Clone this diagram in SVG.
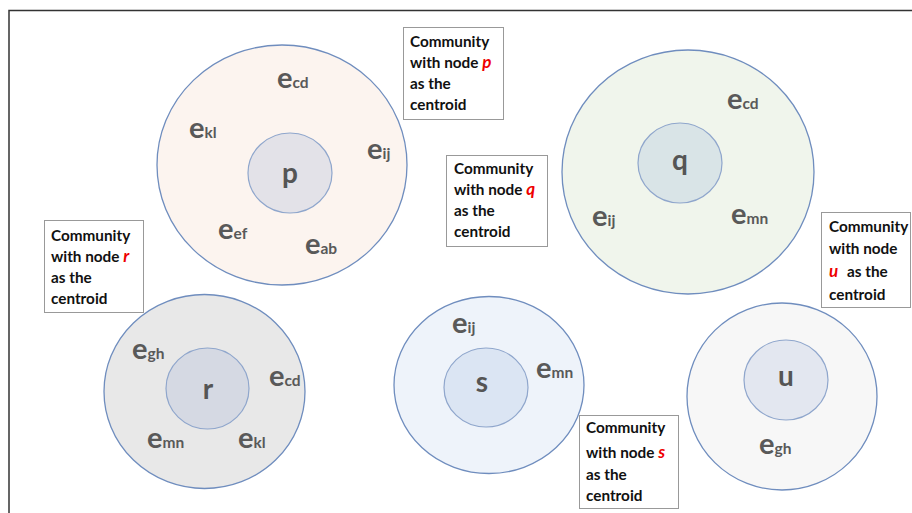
<svg xmlns="http://www.w3.org/2000/svg" width="912" height="513" viewBox="0 0 912 513">
  <style>
    .frame { fill: none; stroke: #333; stroke-width: 1.5; }
    .outer { stroke: #6f8dbe; stroke-width: 1.3; }
    .inner { stroke: #8fa6cc; stroke-width: 1.2; }
    .e { font-family: Lato, "Liberation Sans", sans-serif; font-weight: bold; font-size: 29px; fill: #595959; }
    .e tspan { font-size: 15.5px; }
    .node { font-family: Lato, "Liberation Sans", sans-serif; font-weight: bold; font-size: 28px; fill: #555; text-anchor: middle; }
    .box { fill: #fff; stroke: #999; stroke-width: 1; }
    .note { font-family: Lato, "Liberation Sans", sans-serif; font-weight: bold; font-size: 15.3px; fill: #111; }
    .red { fill: #e00; font-style: italic; font-size: 17px; }
  </style>

  <rect id="bg" x="0" y="0" width="912" height="513" fill="#fff"/>
  <path class="frame" d="M9,513 V10.5 H912"/>

  <!-- community p -->
  <g id="community-p">
    <ellipse class="outer" cx="282" cy="165" rx="125" ry="120" fill="#fcf4ef"/>
    <ellipse class="inner" cx="290" cy="173" rx="42" ry="40" fill="#e3e2e8"/>
    <text class="node" x="290" y="183">p</text>
    <text class="e" x="277" y="88">e<tspan>cd</tspan></text>
    <text class="e" x="189" y="138">e<tspan>kl</tspan></text>
    <text class="e" x="367" y="159">e<tspan>ij</tspan></text>
    <text class="e" x="218" y="239">e<tspan>ef</tspan></text>
    <text class="e" x="305" y="254">e<tspan>ab</tspan></text>
  </g>

  <!-- community q -->
  <g id="community-q">
    <ellipse class="outer" cx="688" cy="172" rx="126" ry="122" fill="#f0f5ec"/>
    <ellipse class="inner" cx="680" cy="163" rx="42" ry="40" fill="#d9e4e7"/>
    <text class="node" x="680" y="170">q</text>
    <text class="e" x="727" y="109">e<tspan>cd</tspan></text>
    <text class="e" x="592" y="226">e<tspan>ij</tspan></text>
    <text class="e" x="731" y="224">e<tspan>mn</tspan></text>
  </g>

  <!-- community r -->
  <g id="community-r">
    <ellipse class="outer" cx="204.5" cy="391.5" rx="100.5" ry="97" fill="#e8e8e8"/>
    <ellipse class="inner" cx="207.5" cy="388.5" rx="41.5" ry="40.5" fill="#d5d9e3"/>
    <text class="node" x="208" y="399">r</text>
    <text class="e" x="132" y="359">e<tspan>gh</tspan></text>
    <text class="e" x="269" y="386">e<tspan>cd</tspan></text>
    <text class="e" x="147" y="448">e<tspan>mn</tspan></text>
    <text class="e" x="238" y="448">e<tspan>kl</tspan></text>
  </g>

  <!-- community s -->
  <g id="community-s">
    <ellipse class="outer" cx="489" cy="385" rx="95" ry="88.5" fill="#eef3fa"/>
    <ellipse class="inner" cx="486" cy="387.5" rx="42" ry="39.5" fill="#dbe5f3"/>
    <text class="node" x="482" y="392">s</text>
    <text class="e" x="452" y="333">e<tspan>ij</tspan></text>
    <text class="e" x="536" y="378">e<tspan>mn</tspan></text>
  </g>

  <!-- community u -->
  <g id="community-u">
    <ellipse class="outer" cx="782" cy="396.5" rx="95" ry="93.5" fill="#f7f7f7"/>
    <ellipse class="inner" cx="786" cy="380" rx="42" ry="40" fill="#e3e7f0"/>
    <text class="node" x="786" y="386">u</text>
    <text class="e" x="759" y="454">e<tspan>gh</tspan></text>
  </g>

  <!-- captions -->
  <g id="note-p">
    <rect class="box" x="403.5" y="27.5" width="100" height="92"/>
    <text class="note" x="410" y="47">Community</text>
    <text class="note" x="410" y="68">with node <tspan class="red">p</tspan></text>
    <text class="note" x="410" y="89">as the</text>
    <text class="note" x="410" y="110">centroid</text>
  </g>
  <g id="note-q">
    <rect class="box" x="446.5" y="155.5" width="101" height="91"/>
    <text class="note" x="454" y="174">Community</text>
    <text class="note" x="454" y="195">with node <tspan class="red">q</tspan></text>
    <text class="note" x="454" y="216">as the</text>
    <text class="note" x="454" y="237">centroid</text>
  </g>
  <g id="note-r">
    <rect class="box" x="44.5" y="220.5" width="99" height="92"/>
    <text class="note" x="51" y="241">Community</text>
    <text class="note" x="51" y="262">with node <tspan class="red">r</tspan></text>
    <text class="note" x="51" y="283">as the</text>
    <text class="note" x="51" y="304">centroid</text>
  </g>
  <g id="note-u">
    <rect class="box" x="821.5" y="212.5" width="89" height="95"/>
    <text class="note" x="829" y="232">Community</text>
    <text class="note" x="829" y="254">with node</text>
    <text class="note" x="829" y="277"><tspan class="red">u</tspan><tspan x="847">as the</tspan></text>
    <text class="note" x="829" y="300">centroid</text>
  </g>
  <g id="note-s">
    <rect class="box" x="579.5" y="415.5" width="99" height="93"/>
    <text class="note" x="586" y="433">Community</text>
    <text class="note" x="586" y="458">with node <tspan class="red">s</tspan></text>
    <text class="note" x="586" y="480">as the</text>
    <text class="note" x="586" y="501">centroid</text>
  </g>
</svg>
